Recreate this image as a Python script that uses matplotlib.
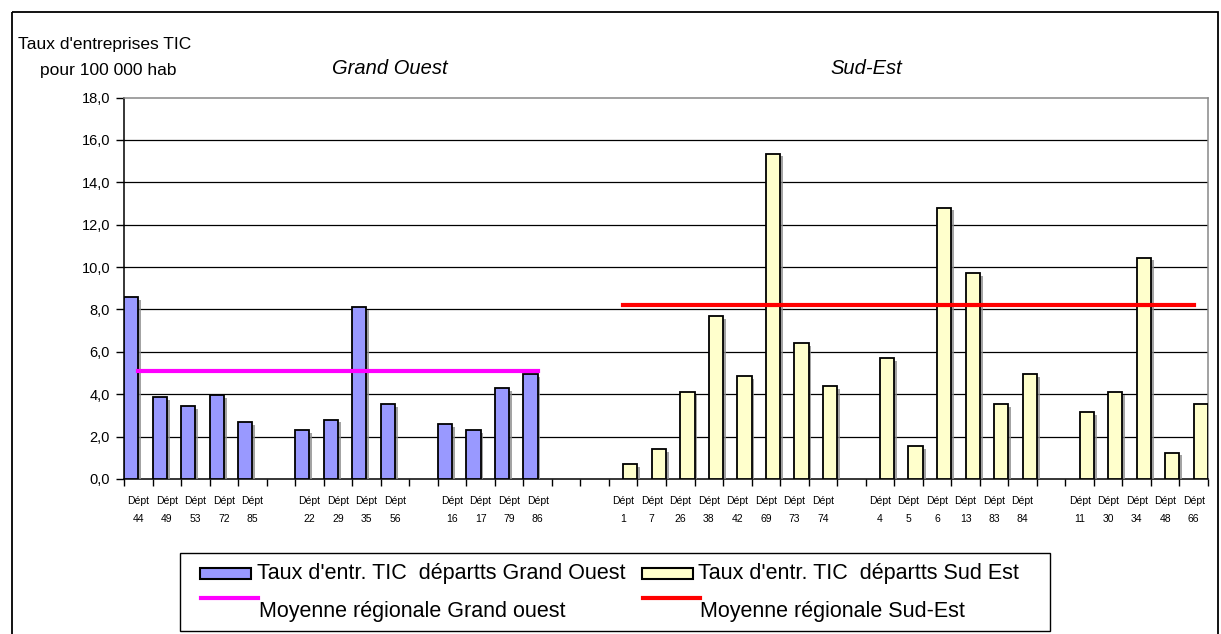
import numpy as np
import matplotlib
matplotlib.use("Agg")
import matplotlib.pyplot as plt
import matplotlib.patheffects as pe
from matplotlib.patches import Rectangle
from matplotlib.ticker import FuncFormatter

plt.rcParams['font.family'] = ['Liberation Sans', 'DejaVu Sans']

nan = np.nan

# one slot per department, '' = empty slot used as a separator
depts = ['44', '49', '53', '72', '85', '', '22', '29', '35', '56', '', '16', '17', '79', '86', '', '',
         '1', '7', '26', '38', '42', '69', '73', '74', '', '4', '5', '6', '13', '83', '84', '',
         '11', '30', '34', '48', '66']

grand_ouest = [8.6, 3.85, 3.45, 3.95, 2.7, nan, 2.3, 2.8, 8.1, 3.55, nan, 2.6, 2.3, 4.3, 4.95] + [nan] * 23

sud_est = [nan] * 17 + [0.7, 1.4, 4.1, 7.7, 4.85, 15.35, 6.4, 4.4, nan,
                        5.7, 1.55, 12.8, 9.7, 3.55, 4.95, nan,
                        3.15, 4.1, 10.45, 1.25, 3.55]

moy_grand_ouest = 5.1
moy_sud_est = 8.2

W, H = 1221, 634
fig = plt.figure(figsize=(W / 100, H / 100), dpi=100)

# main plot area (pixel box 124..1208 x 97..479)
ax = fig.add_axes([124 / W, 1 - 479 / H, (1208 - 124) / W, (479 - 97.5) / H])

x = np.arange(len(depts))
shadow = [pe.SimplePatchShadow(offset=(2, -2), shadow_rgbFace='0.55', alpha=0.8), pe.Normal()]

b1 = ax.bar(x - 0.25, grand_ouest, width=0.5, color='#9999FF', edgecolor='black', linewidth=1.3, zorder=3)
b2 = ax.bar(x + 0.25, sud_est, width=0.5, color='#FFFFCC', edgecolor='black', linewidth=1.3, zorder=3)
for b in list(b1) + list(b2):
    b.set_path_effects(shadow)

go_idx = [i for i, v in enumerate(grand_ouest) if not np.isnan(v)]
se_idx = [i for i, v in enumerate(sud_est) if not np.isnan(v)]
ax.plot([go_idx[0], go_idx[-1]], [moy_grand_ouest] * 2, color='#FF00FF', lw=3, zorder=4)
ax.plot([se_idx[0], se_idx[-1]], [moy_sud_est] * 2, color='#FF0000', lw=3, zorder=4)

ax.set_xlim(-0.5, len(depts) - 0.5)
ax.set_ylim(0, 18)
ax.set_yticks(np.arange(0, 18.1, 2))
ax.yaxis.set_major_formatter(FuncFormatter(lambda v, p: ('%.1f' % v).replace('.', ',')))
for yv in np.arange(2, 17, 2):
    ax.axhline(yv, color='black', lw=0.9, zorder=1)

lab_pos = [i for i, d in enumerate(depts) if d]
ax.set_xticks(lab_pos)
ax.set_xticklabels(['Dépt\n' + depts[i] for i in lab_pos], fontsize=7.5, linespacing=2.0)
ax.set_xticks(np.arange(-0.5, len(depts), 1), minor=True)
ax.tick_params(axis='x', which='major', length=0, pad=12)
ax.tick_params(axis='x', which='minor', length=5, width=1, direction='out')
ax.tick_params(axis='y', length=6, width=1, direction='out', labelsize=10.5, pad=4)

for s in ['left', 'bottom']:
    ax.spines[s].set_color('black')
    ax.spines[s].set_linewidth(1.1)
for s in ['top', 'right']:
    ax.spines[s].set_color('#888888')
    ax.spines[s].set_linewidth(1.1)

# overlay in pixel coordinates for border, titles and legend
ov = fig.add_axes([0, 0, 1, 1], zorder=-1)
ov.set_xlim(0, W)
ov.set_ylim(H, 0)
ov.axis('off')
ov.patch.set_alpha(0)
ov.add_patch(Rectangle((12, 12), 1206, 640, fill=False, edgecolor='black', lw=1.3))

ov.text(18, 45, "Taux d'entreprises TIC", fontsize=12.5, va='center', ha='left')
ov.text(40, 70, "pour 100 000 hab", fontsize=12.5, va='center', ha='left')
ov.text(390, 68, "Grand Ouest", fontsize=14.5, style='italic', ha='center', va='center')
ov.text(866, 68, "Sud-Est", fontsize=14.5, style='italic', ha='center', va='center')

ov2 = fig.add_axes([0, 0, 1, 1], zorder=5)
ov2.set_xlim(0, W)
ov2.set_ylim(H, 0)
ov2.axis('off')
ov2.patch.set_alpha(0)
ov2.add_patch(Rectangle((180, 553), 870, 78, fill=False, edgecolor='black', lw=1))
ov2.add_patch(Rectangle((200, 568), 51, 11, facecolor='#9999FF', edgecolor='black', lw=1.5))
ov2.add_patch(Rectangle((642, 568), 51, 11, facecolor='#FFFFCC', edgecolor='black', lw=1.5))
ov2.text(257, 574, "Taux d'entr. TIC  départts Grand Ouest", fontsize=15.5, va='center', ha='left')
ov2.text(698, 574, "Taux d'entr. TIC  départts Sud Est", fontsize=15.5, va='center', ha='left')
ov2.plot([201, 258], [598, 598], color='#FF00FF', lw=3)
ov2.plot([643, 700], [598, 598], color='#FF0000', lw=3)
ov2.text(259, 611, "Moyenne régionale Grand ouest", fontsize=15.5, va='center', ha='left')
ov2.text(700, 611, "Moyenne régionale Sud-Est", fontsize=15.5, va='center', ha='left')

fig.savefig('out.png', dpi=100)
